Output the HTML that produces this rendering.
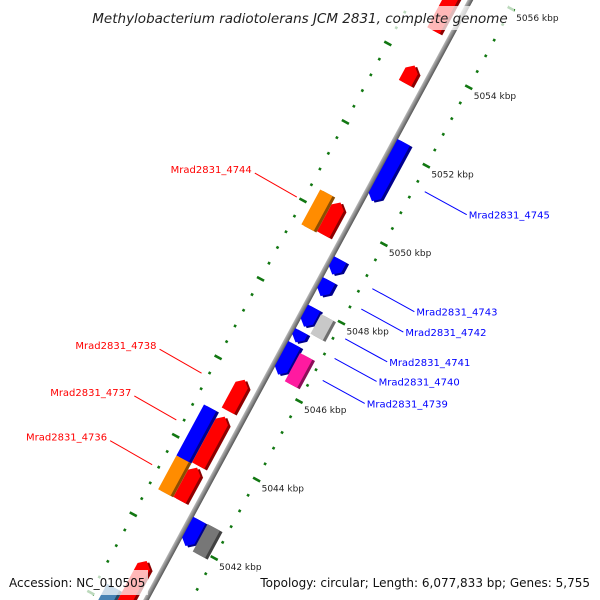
<!DOCTYPE html>
<html><head><meta charset="utf-8"><style>
html,body{margin:0;padding:0;background:#fff;width:600px;height:600px;overflow:hidden;}
svg{display:block;font-family:"DejaVu Sans","Liberation Sans",sans-serif;}
</style></head><body>
<svg id="map" width="600" height="600" viewBox="0 0 600 600" xmlns="http://www.w3.org/2000/svg">
<defs>
<linearGradient id="bb" x1="0" y1="0" x2="0" y2="1">
<stop offset="0" stop-color="#bbb"/><stop offset="0.5" stop-color="#888"/><stop offset="1" stop-color="#555"/>
</linearGradient>
</defs>
<g id="plot" transform="translate(179,539) rotate(-61.6)"></g>
<g id="labels"></g>
<rect x="86" y="6" width="428" height="24" fill="#fff" fill-opacity="0.72"/>
<text x="300" y="23" text-anchor="middle" font-size="13.5" font-style="italic" fill="#222">Methylobacterium radiotolerans JCM 2831, complete genome</text>
<rect x="5" y="570" width="143" height="25" fill="#fff" fill-opacity="0.72"/>
<text x="9" y="587" font-size="12" fill="#111">Accession: NC_010505</text>
<rect x="257" y="570" width="338" height="25" fill="#fff" fill-opacity="0.72"/>
<text x="590" y="587" text-anchor="end" font-size="12" fill="#111">Topology: circular; Length: 6,077,833 bp; Genes: 5,755</text>
</svg>
<script>
const geneStart = [5041.93, 5041.9, 5046.3, 5046.24, 5047.12, 5047.52, 5047.45, 5048.3, 5048.85, 5050.72, 5049.54, 5049.51, 5045.05, 5043.65, 5043.62, 5042.77, 5042.76, 5040.0, 5039.5, 5053.4, 5054.74];
const geneEnd   = [5042.59, 5042.6, 5047.07, 5046.96, 5047.4, 5048.0, 5047.95, 5048.7, 5049.23, 5052.22, 5050.36, 5050.4, 5045.84, 5044.9, 5044.92, 5043.6, 5043.62, 5041.22, 5040.35, 5053.85, 5057.0];
const geneStrand = [-1, 0, -1, 0, -1, -1, 0, -1, -1, -1, 1, 0, 1, 1, 0, 1, 0, 1, 0, 1, 1];
const geneTrack = ["ri","ro","ri","ro","ri","ri","ro","ri","ri","ri","li","lo","li","li","lo","li","lo","li","lo","li","li"];
const geneColor = ["#0000ff","#777777","#0000ff","#ff1aa0","#0000ff","#0000ff","#c8c8c8","#0000ff","#0000ff","#0000ff","#ff0000","#ff8c00","#ff0000","#ff0000","#0000ff","#ff0000","#ff8c00","#ff0000","#4682b4","#ff0000","#ff0000"];
const tickMin = 5036, tickMax = 5060, tickStep = 0.4, majorStep = 2;
const labelKb = [5042, 5044, 5046, 5048, 5050, 5052, 5054, 5056];
const labelNames = ["Mrad2831_4745","Mrad2831_4743","Mrad2831_4742","Mrad2831_4741","Mrad2831_4740","Mrad2831_4739","Mrad2831_4744","Mrad2831_4738","Mrad2831_4737","Mrad2831_4736"];
const labelSide = [1,1,1,1,1,1,-1,-1,-1,-1];
const labelGeneKb = [5051.47, 5049.0, 5048.48, 5047.72, 5047.22, 5046.66, 5050.0, 5045.51, 5044.32, 5043.18];

const K0 = 5042, PX = 44.6;
const trackY = {ri:9, ro:25, li:-18, lo:-35};
const H = 7;
const NS = "http://www.w3.org/2000/svg";
const plot = document.getElementById('plot');
const labels = document.getElementById('labels');
function ax(kb){ return (kb - K0) * PX; }
function toScreen(lx, ly){ const a = -61.6*Math.PI/180; return [179 + lx*Math.cos(a) - ly*Math.sin(a), 539 + lx*Math.sin(a) + ly*Math.cos(a)]; }
function mk(tag, attrs, parent){ const e = document.createElementNS(NS, tag); for (const k in attrs) e.setAttribute(k, attrs[k]); parent.appendChild(e); return e; }
function shade(hex, f){ const n = parseInt(hex.slice(1),16); const r=(n>>16)&255,g=(n>>8)&255,b=n&255; return 'rgb('+Math.round(r*f)+','+Math.round(g*f)+','+Math.round(b*f)+')'; }

for (let kb = tickMin; kb <= tickMax + 1e-6; kb += tickStep) {
  const k = Math.round(kb*10)/10;
  const major = Math.abs(k/majorStep - Math.round(k/majorStep)) < 1e-6;
  [40, -52].forEach(function(py){
    const len = major ? 4 : 1.3;
    const t = mk('line', {x1: ax(k), x2: ax(k), y1: py-len, y2: py+len, stroke: '#117711', 'stroke-width': 2.6}, plot);
    
    
  });
}
const bb = mk('rect', {x: ax(5030), y: -2.5, width: ax(5070)-ax(5030), height: 5, fill: 'url(#bb)'}, plot);



function genePts(a, b, s, cy){
  const x1 = ax(a), x2 = ax(b), y1 = cy - H, y2 = cy + H;
  const al = Math.min(6, (x2-x1)*0.6);
  if (s > 0) return [[x1,y1],[x2-al,y1],[x2,cy],[x2-al,y2],[x1,y2]];
  if (s < 0) return [[x1,cy],[x1+al,y1],[x2,y1],[x2,y2],[x1+al,y2]];
  return [[x1,y1],[x2,y1],[x2,y2],[x1,y2]];
}
for (let i = 0; i < geneStart.length; i++) {
  const cy = trackY[geneTrack[i]];
  const p = genePts(geneStart[i], geneEnd[i], geneStrand[i], cy);
  const g = mk('g', {}, plot);
  
  
  mk('polygon', {points: p.map(q => q[0]+','+(q[1]+3)).join(' '), fill: shade(geneColor[i], 0.55)}, g);
  mk('polygon', {points: p.map(q => q[0]+','+q[1]).join(' '), fill: geneColor[i]}, g);
}
for (let i = 0; i < labelKb.length; i++) {
  const s = toScreen(ax(labelKb[i]), 40);
  const t = mk('text', {x: s[0]+5, y: s[1]+12, 'font-size': 9, fill: '#222'}, labels);
  
  
  t.textContent = labelKb[i] + ' kbp';
}
for (let i = 0; i < labelNames.length; i++) {
  const side = labelSide[i];
  const s = toScreen(ax(labelGeneKb[i]), side > 0 ? 51 : -59);
  const col = side > 0 ? '#0000ff' : '#ff0000';
  let lx1, ly1, lx2, ly2;
  if (side > 0) { lx1 = s[0]; ly1 = s[1]; lx2 = s[0]+42; ly2 = s[1]+23; }
  else { lx2 = s[0]; ly2 = s[1]; lx1 = s[0]-42; ly1 = s[1]-24; }
  const l = mk('line', {x1: lx1, y1: ly1, x2: lx2, y2: ly2, stroke: col, 'stroke-width': 1}, labels);
  
  
  const t = mk('text', side > 0 ? {x: lx2+2, y: ly2+4, 'font-size': 10, fill: col} : {x: lx1-3, y: ly1, 'font-size': 10, fill: col, 'text-anchor': 'end'}, labels);
  
  
  t.textContent = labelNames[i];
}
</script>
</body></html>
